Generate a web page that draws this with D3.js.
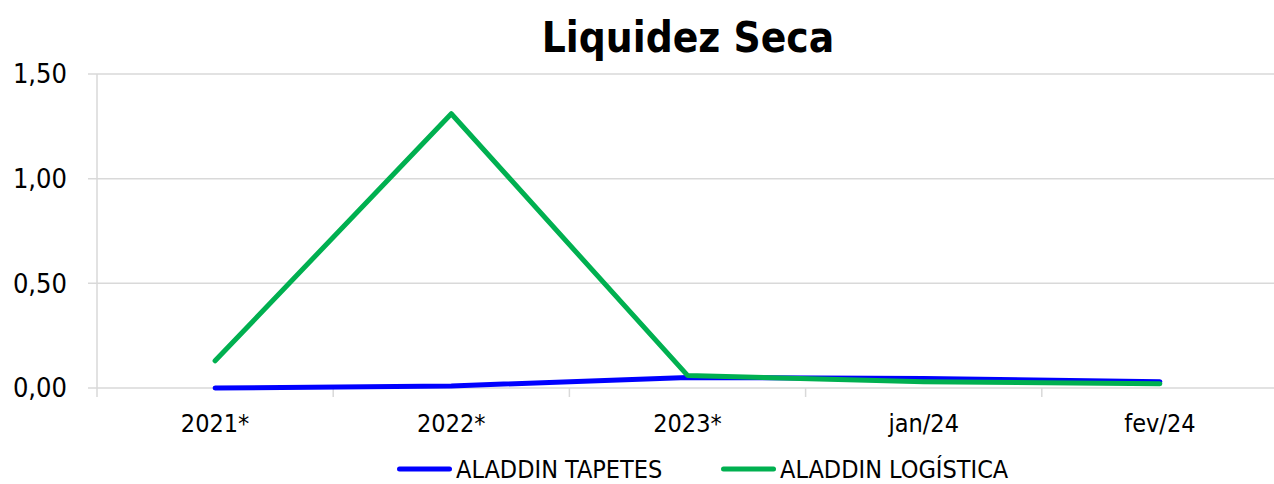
<!DOCTYPE html>
<html>
<head>
<meta charset="utf-8">
<script src="https://cdn.jsdelivr.net/npm/d3@7"></script>
<style>
  body { margin: 0; background: #fff; }
  svg text { font-family: "DejaVu Sans Condensed", "DejaVu Sans", sans-serif; font-stretch: condensed; fill: #000; }
</style>
</head>
<body>
<div id="chartArea"></div>
<script>
// dados do gráfico
var categorias = ['2021*', '2022*', '2023*', 'jan/24', 'fev/24'];
var tapetes = [0.00, 0.01, 0.05, 0.045, 0.03];
var logistica = [0.13, 1.31, 0.06, 0.03, 0.02];
var yTicks = [0, 0.5, 1.0, 1.5];
var titulo = 'Liquidez Seca';

var series = [
    { nome: 'ALADDIN TAPETES', cor: '#0000ff', valores: tapetes },
    { nome: 'ALADDIN LOGÍSTICA', cor: '#00b050', valores: logistica }
];

var svg = d3.select('#chartArea').append('svg')
    .attr('width', 1274).attr('height', 484);

var margin = { top: 74, right: -4, bottom: 96, left: 97 },
    width = 1274 - margin.left - margin.right,
    height = 484 - margin.top - margin.bottom;

var g = svg.append('g').attr('transform', 'translate(' + margin.left + ',' + margin.top + ')');

var x = d3.scaleBand().domain(categorias).range([0, width]);
var y = d3.scaleLinear().domain([0, 1.5]).range([height, 0]);

// grade horizontal
g.append('g').selectAll('line').data(yTicks).enter().append('line')
    .attr('x1', -9).attr('x2', width)
    .attr('y1', function(d) { return y(d); }).attr('y2', function(d) { return y(d); })
    .style('stroke', '#d9d9d9').style('stroke-width', 1.5);

// eixo y
g.append('line').attr('x1', 0).attr('x2', 0).attr('y1', 0).attr('y2', height + 9)
    .style('stroke', '#d9d9d9').style('stroke-width', 1.5);

// marcas do eixo x
var bordas = categorias.map(function(c) { return x(c) + x.bandwidth(); });
g.append('g').selectAll('line').data(bordas).enter().append('line')
    .attr('x1', function(d) { return d; }).attr('x2', function(d) { return d; })
    .attr('y1', height).attr('y2', height + 9)
    .style('stroke', '#d9d9d9').style('stroke-width', 1.5);

// rótulos do eixo y
g.append('g').selectAll('text').data(yTicks).enter().append('text')
    .attr('x', -30).attr('y', function(d) { return y(d); })
    .attr('dy', '0.35em')
    .style('text-anchor', 'end')
    .style('font-size', '27px')
    .text(function(d) { return d3.format('.2f')(d).replace('.', ','); });

// rótulos do eixo x
g.append('g').selectAll('text').data(categorias).enter().append('text')
    .attr('x', function(d) { return x(d) + x.bandwidth() / 2; })
    .attr('y', height + 44)
    .style('text-anchor', 'middle')
    .style('font-size', '25px')
    .text(function(d) { return d; });

var line = d3.line()
    .x(function(d, i) { return x(categorias[i]) + x.bandwidth() / 2; })
    .y(function(d) { return y(d); });

g.selectAll('.serie').data(series).enter().append('path')
    .attr('class', 'serie')
    .attr('d', function(d) { return line(d.valores); })
    .style('fill', 'none')
    .style('stroke', function(d) { return d.cor; })
    .style('stroke-width', 5)
    .style('stroke-linecap', 'round')
    .style('stroke-linejoin', 'round');

// título
svg.append('text')
    .attr('x', 688).attr('y', 52)
    .style('text-anchor', 'middle')
    .style('font-size', '42px')
    .style('font-weight', 'bold')
    .text(titulo);

// legenda
var legX = [397, 721];
var leg = svg.selectAll('.leg').data(series).enter().append('g')
    .attr('class', 'leg')
    .attr('transform', function(d, i) { return 'translate(' + legX[i] + ',469)'; });
leg.append('line').attr('x1', 2.5).attr('x2', 52.5).attr('y1', 0).attr('y2', 0)
    .style('stroke', function(d) { return d.cor; })
    .style('stroke-width', 5).style('stroke-linecap', 'round');
leg.append('text').attr('x', 59).attr('y', 8.5)
    .style('font-size', '25px')
    .text(function(d) { return d.nome; });
</script>
</body>
</html>
